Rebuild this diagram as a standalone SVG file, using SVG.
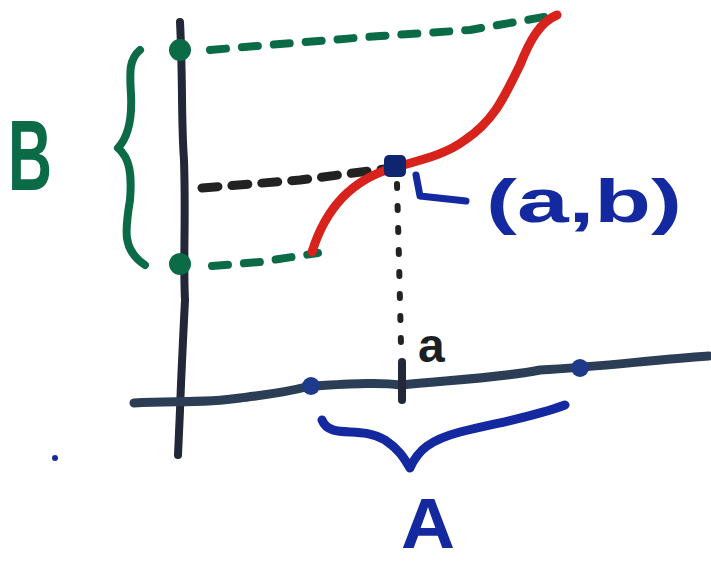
<svg xmlns="http://www.w3.org/2000/svg" width="711" height="569" viewBox="0 0 711 569">
<style>
.ln{fill:none;stroke-linecap:round;stroke-linejoin:round}
.ax{stroke:#232838;stroke-width:8}
.gd{stroke:#0b6b47;stroke-width:8;stroke-dasharray:16 16}
.kd{stroke:#222;stroke-width:9;stroke-dasharray:16 14}
.kt{stroke:#222;stroke-width:6;stroke-dasharray:4 18}
.gb{stroke:#0b6b47;stroke-width:8}
.bb{stroke:#1428a0;stroke-width:9}
.t{font-family:"Liberation Sans",Arial,sans-serif;font-weight:bold}
</style>
<rect width="711" height="569" fill="#fff"/>
<g id="axes">
<path class="ln ax" d="M180,22 C183,80 181,120 184,160 C186,220 183,260 185,300 C183,340 181,380 180,410 L178,455"/>
<path class="ln" stroke="#2c3e55" stroke-width="9" d="M134,403 C170,400 200,404 240,398 C260,395 280,394 310,386 C350,384 380,382 400,385 C450,380 500,378 540,370 C600,367 650,360 709,356"/>
<path class="ln ax" d="M402,362 L402,400"/>
<circle cx="311" cy="386" r="9" fill="#1f3a8a"/>
<circle cx="580" cy="368" r="9" fill="#1f3a8a"/>
</g>
<g id="guides">
<path class="ln gd" d="M210,50 L280,44 L380,36 L470,30 L555,15"/>
<path class="ln gd" d="M212,266 L260,262 L318,253"/>
<path class="ln kd" d="M202,188 L300,180 L392,168"/>
<path class="ln kt" d="M397,184 L399,260 L401,345"/>
<circle cx="180" cy="50" r="11" fill="#0b6b47"/>
<circle cx="180" cy="264" r="11" fill="#0b6b47"/>
</g>
<g id="curve">
<path class="ln" stroke="#d8221c" stroke-width="9" d="M312,252 C325,210 350,180 393,168 C420,160 445,155 465,140 C495,120 505,95 520,65 C530,40 540,22 557,15"/>
<rect x="384" y="155" width="22" height="22" rx="5" fill="#0f2570"/>
</g>
<g id="braces">
<path class="ln gb" d="M140,50 C128,60 130,75 131,95 C132,115 130,135 118,148 C130,158 132,175 130,200 C125,230 122,250 145,265"/>
<path class="ln bb" d="M322,420 C330,440 360,425 385,440 C400,450 405,460 410,468 C418,450 430,440 460,432 C500,422 530,418 565,405"/>
<path class="ln" stroke="#1428a0" stroke-width="7" d="M416,175 L420,196 L466,201"/>
</g>
<g id="labels">
<text class="t" x="8" y="190" font-size="100" fill="#0b6b47" textLength="44" lengthAdjust="spacingAndGlyphs">B</text>
<text class="t" x="486" y="222" font-size="62" fill="#1428a0" textLength="196" lengthAdjust="spacingAndGlyphs">(a,b)</text>
<text class="t" x="418" y="362" font-size="48" fill="#1a1f24">a</text>
<text class="t" x="401" y="548" font-size="70" fill="#1428a0" textLength="54" lengthAdjust="spacingAndGlyphs">A</text>
<circle cx="55" cy="458" r="3" fill="#1428a0"/>
</g>
</svg>
